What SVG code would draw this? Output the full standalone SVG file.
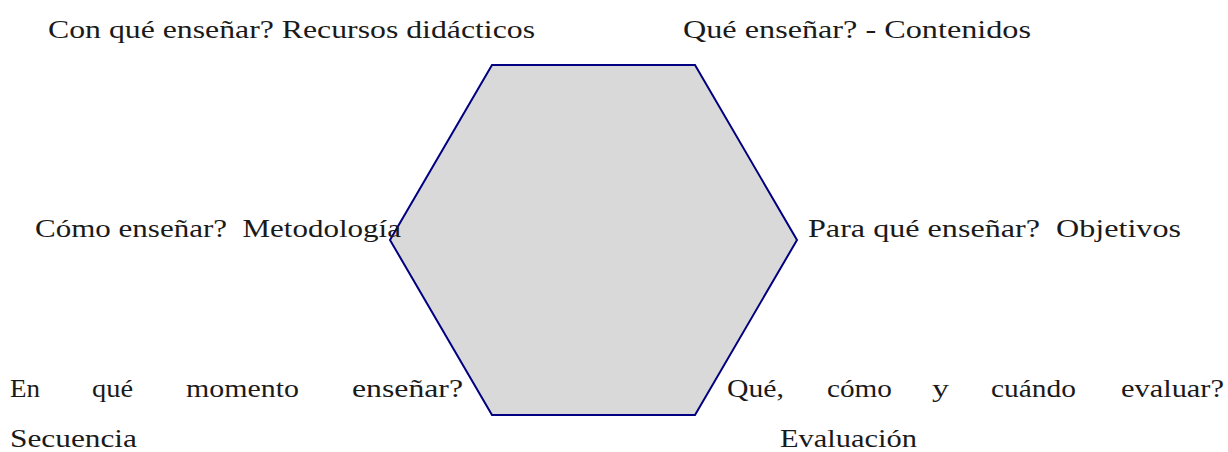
<svg xmlns="http://www.w3.org/2000/svg" width="1228" height="452" viewBox="0 0 1228 452">
<style>
.t{font-family:"Liberation Serif","DejaVu Serif",serif;font-size:25px;fill:#1a1a1a}
</style>
<rect width="1228" height="452" fill="#ffffff"/>
<g id="hexagon">
<polygon points="492,65 695,65 797,240 695,415 492,415 390,240" fill="#d9d9d9" stroke="#000080" stroke-width="2" stroke-linejoin="miter"/>
</g>
<g id="connectors"></g>
<g id="label-recursos">
<text class="t" x="48" y="38" textLength="487" lengthAdjust="spacingAndGlyphs">Con qué enseñar? Recursos didácticos</text>
</g>
<g id="label-contenidos">
<text class="t" x="683" y="38" textLength="348" lengthAdjust="spacingAndGlyphs">Qué enseñar? - Contenidos</text>
</g>
<g id="label-metodologia">
<text class="t" x="35" y="237" textLength="366" lengthAdjust="spacingAndGlyphs" xml:space="preserve">Cómo enseñar?  Metodología</text>
</g>
<g id="label-objetivos">
<text class="t" x="808" y="237" textLength="373" lengthAdjust="spacingAndGlyphs" xml:space="preserve">Para qué enseñar?  Objetivos</text>
</g>
<g id="label-secuencia">
<text class="t" x="10" y="397" textLength="30" lengthAdjust="spacingAndGlyphs">En</text>
<text class="t" x="92" y="397" textLength="41" lengthAdjust="spacingAndGlyphs">qué</text>
<text class="t" x="186" y="397" textLength="113" lengthAdjust="spacingAndGlyphs">momento</text>
<text class="t" x="352" y="397" textLength="111" lengthAdjust="spacingAndGlyphs">enseñar?</text>
<text class="t" x="10" y="447" textLength="127" lengthAdjust="spacingAndGlyphs">Secuencia</text>
</g>
<g id="label-evaluacion">
<text class="t" x="727" y="397" textLength="57" lengthAdjust="spacingAndGlyphs">Qué,</text>
<text class="t" x="827" y="397" textLength="65" lengthAdjust="spacingAndGlyphs">cómo</text>
<text class="t" x="932" y="397" textLength="17" lengthAdjust="spacingAndGlyphs">y</text>
<text class="t" x="991" y="397" textLength="85" lengthAdjust="spacingAndGlyphs">cuándo</text>
<text class="t" x="1121" y="397" textLength="103" lengthAdjust="spacingAndGlyphs">evaluar?</text>
<text class="t" x="780" y="447" textLength="137" lengthAdjust="spacingAndGlyphs">Evaluación</text>
</g>
</svg>
